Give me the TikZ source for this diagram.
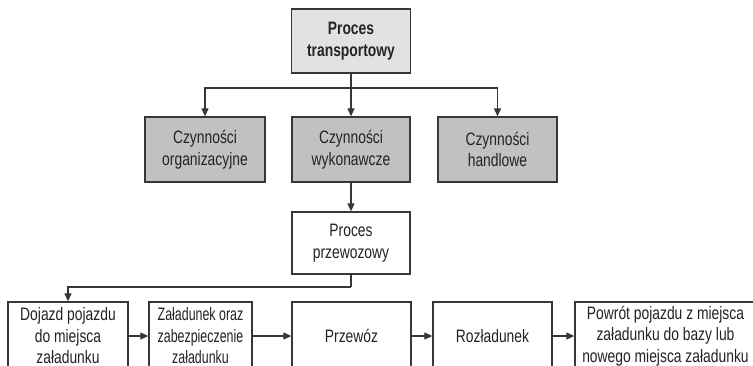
\documentclass[tikz,border=0pt]{standalone}
\usepackage{fontspec}
\setmainfont[FakeStretch=0.77]{Liberation Sans}
\newfontfamily\narrowerfont[FakeStretch=0.69]{Liberation Sans}
\usetikzlibrary{arrows.meta}
\definecolor{linec}{RGB}{55,55,55}
\definecolor{txtc}{RGB}{35,35,35}
\definecolor{topfill}{RGB}{226,226,226}
\definecolor{midfill}{RGB}{193,193,193}
\tikzset{
  boxbase/.style={draw=linec, line width=1.3pt, text=txtc, align=center, inner sep=0pt,
    font=\fontsize{18}{21.5}\selectfont},
  topbox/.style={boxbase, fill=topfill, font=\fontsize{18}{21.5}\selectfont\bfseries},
  graybox/.style={boxbase, fill=midfill},
  whitebox/.style={boxbase, fill=white},
  narrowbox/.style={whitebox, font=\narrowerfont\fontsize{18}{21.5}\selectfont},
  conn/.style={draw=linec, line width=1.2pt, -{Triangle[length=8pt,width=7pt]}},
  plain/.style={draw=linec, line width=1.2pt}
}
\begin{document}
\begin{tikzpicture}[x=1pt,y=-1pt]
\useasboundingbox (0,0) rectangle (753,365);
\clip (0,0) rectangle (753,365);
\fill[white] (0,0) rectangle (753,365);
\node[topbox, minimum width=119pt, minimum height=64pt] (top) at (351,41) {Proces\\transportowy};
\node[graybox, minimum width=120pt, minimum height=65pt] (org) at (205,149.5) {Czynności\\organizacyjne};
\node[graybox, minimum width=118pt, minimum height=65pt] (wyk) at (351,149.5) {Czynności\\wykonawcze};
\node[graybox, minimum width=119pt, minimum height=65pt] (han) at (497.5,149.5) {Czynności\\handlowe};
\node[whitebox, minimum width=118pt, minimum height=62pt] (prz) at (351,243) {Proces\\przewozowy};
\node[whitebox, minimum width=120pt, minimum height=68pt] (b1) at (68,336) {Dojazd pojazdu\\do miejsca\\załadunku};
\node[narrowbox, minimum width=103pt, minimum height=68pt] (b2) at (200.5,336) {Załadunek oraz\\zabezpieczenie\\załadunku};
\node[whitebox, minimum width=119pt, minimum height=68pt] (b3) at (351.5,336) {Przewóz};
\node[whitebox, minimum width=119pt, minimum height=68pt] (b4) at (492.5,336) {Rozładunek};
\node[whitebox, minimum width=181pt, minimum height=68pt] (b5) at (665.5,336) {Powrót pojazdu z miejsca\\załadunku do bazy lub\\nowego miejsca załadunku};
\coordinate (j1) at (351,88);
\draw[plain] (top.south) -- (j1);
\draw[conn] (j1) -- (wyk.north);
\draw[conn] (j1) -| (org.north);
\draw[conn] (j1) -| (han.north);
\draw[conn] (wyk.south) -- (prz.north);
\coordinate (j2) at (351,287);
\draw[plain] (prz.south) -- (j2);
\draw[conn] (j2) -| (b1.north);
\draw[conn] (b1.east) -- (b2.west);
\draw[conn] (b2.east) -- (b3.west);
\draw[conn] (b3.east) -- (b4.west);
\draw[conn] (b4.east) -- (b5.west);
\end{tikzpicture}
\end{document}
